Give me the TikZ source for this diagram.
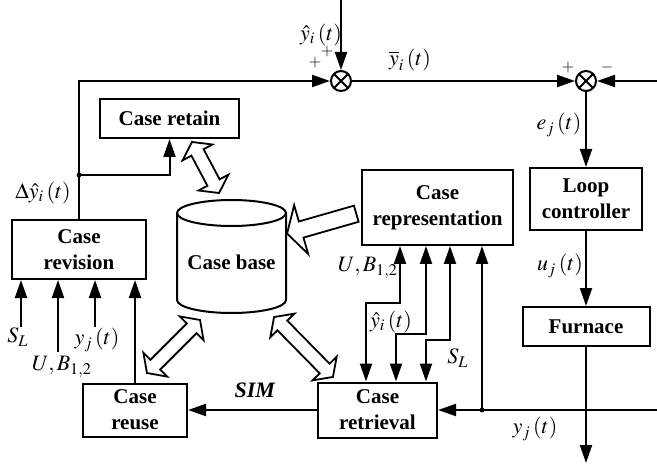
\documentclass[tikz,border=0pt]{standalone}
\usepackage{mathptmx}
\usepackage{fontspec}
\setmainfont{Liberation Serif}
\usetikzlibrary{arrows.meta, positioning, calc, shapes.arrows}

\begin{document}
\begin{tikzpicture}[
    x=0.5pt, y=-0.5pt,
    >={Triangle[length=9pt,width=6pt]},
    line width=1pt,
    font=\fontsize{11}{13}\selectfont,
    block/.style={draw, line width=1pt, align=center, inner sep=0pt,
        font=\fontsize{10.5}{13}\selectfont\bfseries},
    sumnode/.style={circle, draw, line width=1pt, minimum size=10pt, inner sep=0pt,
        path picture={\draw[line width=1pt]
            (path picture bounding box.north west) -- (path picture bounding box.south east)
            (path picture bounding box.north east) -- (path picture bounding box.south west);}},
    dblarrow/.style={double arrow, draw, line width=0.9pt, inner sep=0pt, inner ysep=3pt,
        double arrow head extend=5pt, double arrow tip angle=110, minimum width=0pt},
    sglarrow/.style={single arrow, draw, line width=0.9pt, inner sep=0pt, inner ysep=3.75pt,
        single arrow head extend=8.5pt, single arrow tip angle=120, minimum width=0pt},
    sign/.style={font=\fontsize{8}{9}\selectfont, inner sep=0pt}
]

    \useasboundingbox (0,0) rectangle (657,464);

    % Blocks
    \node[block, minimum width=69.5pt, minimum height=19.5pt] (retain) at (169.5,118.5) {Case retain};
    \node[block, minimum width=67pt, minimum height=29.5pt] (revision) at (79,249.5) {Case\\revision};
    \node[block, minimum width=75.5pt, minimum height=37.5pt] (repr) at (437.5,207.5) {Case\\representation};
    \node[block, minimum width=56pt, minimum height=31pt] (loop) at (586,199) {Loop\\controller};
    \node[block, minimum width=63.5pt, minimum height=19.5pt] (furnace) at (586,326.5) {Furnace};
    \node[block, minimum width=59.5pt, minimum height=27.5pt] (retrieval) at (377.5,410) {Case\\retrieval};
    \node[block, minimum width=52pt, minimum height=26.5pt] (reuse) at (135,410) {Case\\reuse};

    % Case base
    \draw (177,213) -- (177,300) arc[start angle=180, end angle=0, x radius=54.5, y radius=13] -- (286,213);
    \draw (231.5,213) ellipse[x radius=54.5, y radius=13];
    \node[font=\fontsize{10.5}{13}\selectfont\bfseries] (base) at (231.5,262) {Case base};

    % Hollow arrows round the case base
    \node[dblarrow, minimum height=28.9pt, rotate=-62] (a1) at (205.5,167.5) {};
    \node[dblarrow, minimum height=37.5pt, rotate=45] (a2) at (173.5,346.5) {};
    \node[dblarrow, minimum height=42pt, rotate=-45.5] (a3) at (303.5,347) {};
    \node[sglarrow, minimum height=36pt, rotate=196] (a4) at (324,223) {};

    % Summing points
    \node[sumnode] (sum1) at (341,81) {};
    \node[sumnode] (sum2) at (586,81) {};

    % Correction feedback
    \coordinate (dy) at ([yshift=22pt]revision.north);
    \draw[->] (revision.north) |- (sum1.west);
    \fill (dy) circle (1.2pt);
    \draw[->] (dy) -| (retain.south);
    \node (dylab) at (43,193) {$\Delta\hat{y}_i\left(t\right)$};

    % Set point
    \coordinate (yhin) at (341,0);
    \draw[->] (yhin) -- (sum1.north);
    \node (yhlab) at (321,35) {$\hat{y}_i\left(t\right)$};
    \node[sign] (p1) at (315,63) {$+$};
    \node[sign] (p2) at (327,52) {$+$};

    \draw[->] (sum1.east) -- (sum2.west);
    \node (ybarlab) at (410,60) {$\overline{y}_i\left(t\right)$};
    \coordinate (rin) at (657,81);
    \draw[->] (rin) -- (sum2.east);
    \node[sign] (p3) at (568,68) {$+$};
    \node[sign] (m1) at (607,68) {$-$};

    % Control loop
    \draw[->] (sum2.south) -- (loop.north);
    \node (elab) at (559,125) {$e_j\left(t\right)$};
    \draw[->] (loop.south) -- (furnace.north);
    \node (ulab) at (560,266) {$u_j\left(t\right)$};
    \coordinate (yout) at (586,463);
    \draw[->] (furnace.south) -- (yout);
    \node (yjlab) at (535,429) {$y_j\left(t\right)$};

    % Output back to retrieval
    \coordinate (yfb) at (657,410);
    \draw[->] (yfb) -- (retrieval.east);
    \coordinate (jr) at (482,410);
    \fill (jr) circle (1.2pt);
    \draw[->] (jr) -- (jr |- repr.south);

    % Representation <-> retrieval
    \draw[<->] ([xshift=19.5pt]repr.south west) -- ++(0,57) -| ([xshift=24.5pt]retrieval.north west);
    \draw[<->] ([xshift=32.5pt]repr.south west) -- ++(0,88) -| ([xshift=39.5pt]retrieval.north west);
    \draw[<->] ([xshift=44.5pt]repr.south west) -- ++(0,94) -| ([xshift=54.5pt]retrieval.north west);
    \node (ublab2) at (368,268) {$U,B_{1,2}$};
    \node (yhlab2) at (391,322) {$\hat{y}_i\left(t\right)$};
    \node (sllab2) at (458,358) {$S_L$};

    % Inputs of revision
    \coordinate (slin) at (21,327);
    \coordinate (ubin) at (58,352);
    \coordinate (yjin) at (95,327);
    \draw[->] (slin) -- (slin |- revision.south);
    \draw[->] (ubin) -- (ubin |- revision.south);
    \draw[->] (yjin) -- (yjin |- revision.south);
    \node (sllab) at (18,337) {$S_L$};
    \node (ublab) at (62,367) {$U,B_{1,2}$};
    \node (yjlab2) at (97,340) {$y_j\left(t\right)$};

    % Retrieval -> reuse -> revision
    \draw[->] (reuse.north) -- (reuse.north |- revision.south);
    \draw[->] (retrieval.west) -- (reuse.east);
    \node (simlab) at (255,390) {\textbf{\textit{SIM}}};

\end{tikzpicture}
\end{document}
